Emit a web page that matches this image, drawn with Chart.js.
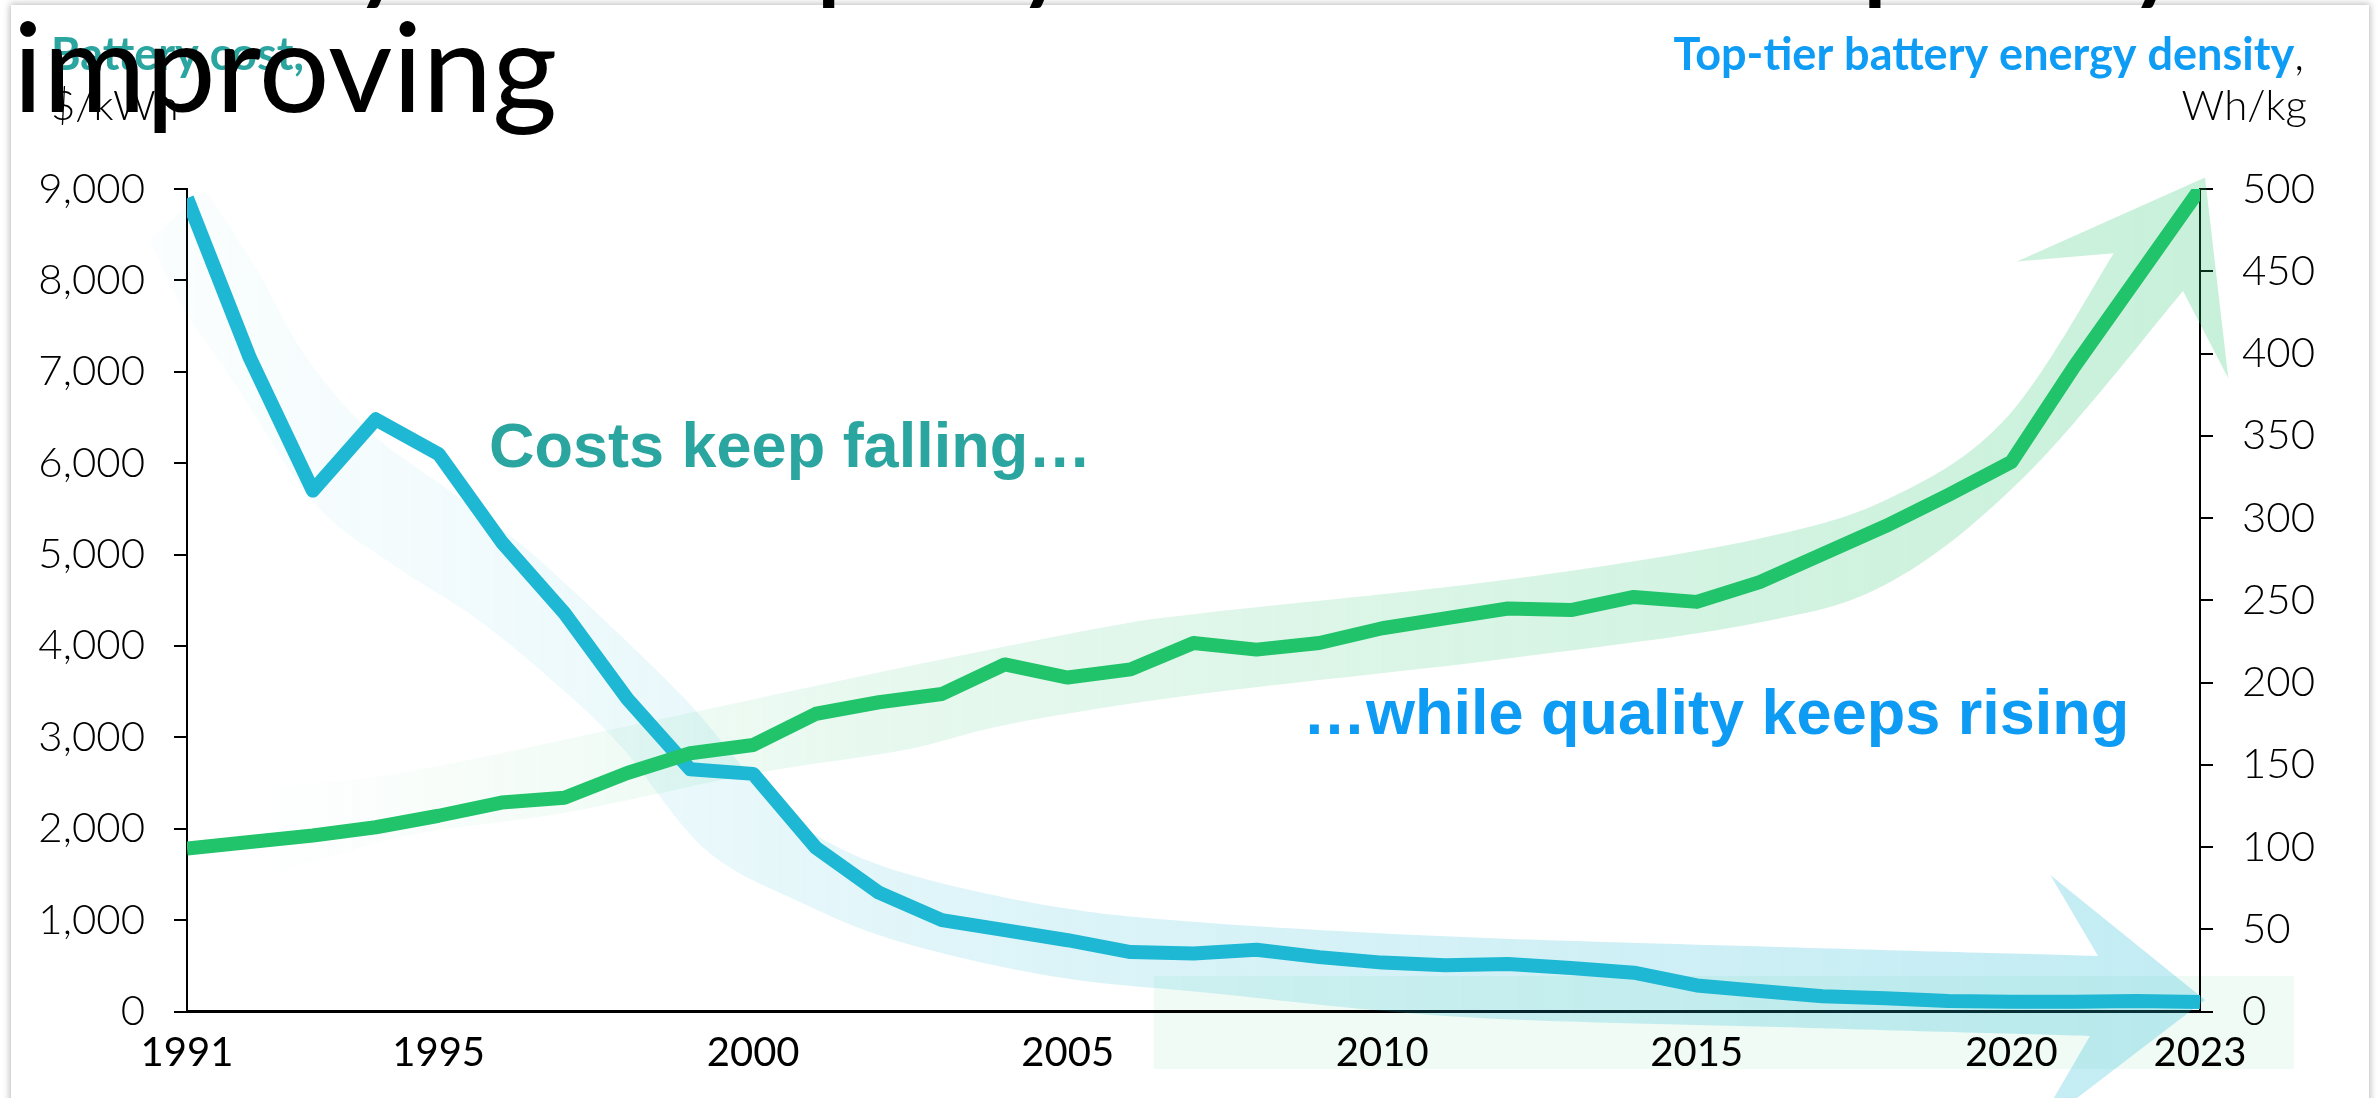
<!DOCTYPE html>
<html>
<head>
<meta charset="utf-8">
<script src="https://cdn.jsdelivr.net/npm/chart.js@4.4.0/dist/chart.umd.min.js"></script>
<style>
  html, body { margin: 0; padding: 0; background: #fff; overflow: hidden; }
  #slide { position: absolute; left: 11px; top: 5px; width: 2358px; height: 1200px; background: #fff;
           box-shadow: 0 0 7px 1px rgba(0,0,0,0.28); }
  #wrap { position: absolute; left: 0; top: 0; width: 2379px; height: 1098px; }
</style>
</head>
<body>
<div id="slide"></div>
<div id="wrap"><canvas id="c" width="2379" height="1098"></canvas></div>
<script>
// Years on the horizontal axis
const years = [1991, 1992, 1993, 1994, 1995, 1996, 1997, 1998, 1999, 2000,
               2001, 2002, 2003, 2004, 2005, 2006, 2007, 2008, 2009, 2010,
               2011, 2012, 2013, 2014, 2015, 2016, 2017, 2018, 2019, 2020,
               2021, 2022, 2023];

// Battery cost, $/kWh (left axis)
const batteryCost = [8900, 7150, 5700, 6480, 6100, 5140, 4360, 3420, 2650, 2600,
                     1790, 1300, 1000, 890, 780, 650, 635, 675, 595, 535,
                     505, 520, 476, 425, 285, 225, 166, 144, 115, 107,
                     107, 115, 104];

// Top-tier battery energy density, Wh/kg (right axis)
const energyDensity = [99, 103, 107, 112, 119, 127, 130, 145, 157, 162,
                       181, 188, 193, 211, 203, 208, 224, 220, 224, 233,
                       239, 245, 244, 252, 249, 261, 278, 295, 314, 334,
                       392, 446, 500];

const yearTicks = [1991, 1995, 2000, 2005, 2010, 2015, 2020, 2023];
const costTicksMax = 9000;
const densityTicksMax = 500;

// Trend arrow outlines: [year, value] in the units of each axis
const costBandUpper = [[1991.29, 8990], [1992.11, 8117], [1992.89, 7164], [1993.93, 6332], [1995.15, 5708],
                       [1996.36, 5084], [1997.58, 4318], [1998.93, 3410], [2000.06, 2501], [2000.94, 1954],
                       [2002.40, 1516], [2004.83, 1144], [2007.26, 969], [2011.28, 815], [2016.28, 706],
                       [2021.38, 608]];
const costBandHead = [[2020.62, 1494], [2023.08, 126], [2020.38, -1297]];
const costBandLower = [[1990.41, 8445], [1990.89, 7755], [1991.79, 6836], [1993.02, 5566], [1994.23, 4909],
                       [1995.63, 4285], [1996.98, 3519], [1997.95, 2862], [1999.25, 1768], [2000.78, 1188],
                       [2002.40, 750], [2004.83, 378], [2007.26, 203], [2011.28, -60], [2016.28, -170],
                       [2021.25, -268]];

const densityBandUpper = [[1991.92, 135], [1994.39, 145], [1998.44, 177], [2002.49, 210], [2005.64, 234],
                          [2007.10, 242], [2011.87, 262], [2015.93, 287], [2018.12, 313], [2019.95, 362],
                          [2021.63, 461]];
const densityBandHead = [[2020.09, 456], [2023.08, 507], [2023.45, 385]];
const densityBandLower = [[1991.92, 78], [1994.39, 106], [1997.02, 121], [2000.06, 145], [2002.40, 159],
                          [2004.11, 175], [2007.10, 193], [2011.87, 214], [2015.93, 236], [2018.12, 262],
                          [2020.31, 329], [2022.73, 438]];

// Pale panel behind the later years
const panelYears = [2006.37, 2024.49];
const panelCost = [389, -629];

// Smooth curve through a list of pixel points (Catmull-Rom)
function smoothPath(ctx, pts, start) {
  if (start) ctx.moveTo(pts[0][0], pts[0][1]); else ctx.lineTo(pts[0][0], pts[0][1]);
  for (let i = 0; i < pts.length - 1; i++) {
    const p0 = pts[i - 1] || pts[i], p1 = pts[i], p2 = pts[i + 1], p3 = pts[i + 2] || p2;
    ctx.bezierCurveTo(p1[0] + (p2[0] - p0[0]) / 6, p1[1] + (p2[1] - p0[1]) / 6,
                      p2[0] - (p3[0] - p1[0]) / 6, p2[1] - (p3[1] - p1[1]) / 6,
                      p2[0], p2[1]);
  }
}

function drawArrowBand(chart, axisId, upper, head, lower, rgb, stops) {
  const xs = chart.scales.x, ys = chart.scales[axisId];
  const px = p => [xs.getPixelForValue(p[0]), ys.getPixelForValue(p[1])];
  const U = upper.map(px), H = head.map(px), L = lower.map(px).reverse();
  const all = U.concat(H, L);
  const x0 = Math.min(...all.map(p => p[0])), x1 = Math.max(...all.map(p => p[0]));
  const ctx = chart.ctx;
  ctx.save();
  const g = ctx.createLinearGradient(x0, 0, x1, 0);
  stops.forEach(([s, a]) => g.addColorStop(s, `rgba(${rgb},${a})`));
  ctx.beginPath();
  smoothPath(ctx, U, true);
  H.forEach(p => ctx.lineTo(p[0], p[1]));
  smoothPath(ctx, L, false);
  ctx.closePath();
  ctx.fillStyle = g;
  ctx.fill();
  ctx.restore();
}

const decorations = {
  id: 'decorations',
  beforeDraw(chart) {
    const ctx = chart.ctx, xs = chart.scales.x, ys = chart.scales.y;
    const xa = xs.getPixelForValue(panelYears[0]), xb = xs.getPixelForValue(panelYears[1]);
    const ya = ys.getPixelForValue(panelCost[0]), yb = ys.getPixelForValue(panelCost[1]);
    ctx.save();
    ctx.fillStyle = 'rgba(200,240,218,0.28)';
    ctx.fillRect(xa, ya, xb - xa, yb - ya);
    ctx.restore();
  },
  beforeDatasetsDraw(chart) {
    drawArrowBand(chart, 'y', costBandUpper, costBandHead, costBandLower, '31,184,212',
                  [[0, 0.02], [0.15, 0.06], [0.45, 0.16], [1, 0.27]]);
    drawArrowBand(chart, 'y2', densityBandUpper, densityBandHead, densityBandLower, '34,196,107',
                  [[0, 0.0], [0.12, 0.04], [0.3, 0.1], [0.6, 0.17], [1, 0.25]]);
  },
  afterDraw(chart) {
    const ctx = chart.ctx;
    ctx.save();
    ctx.textBaseline = 'alphabetic';
    // Axis titles
    ctx.textAlign = 'left';
    ctx.font = 'bold 45px Lato, sans-serif';
    ctx.fillStyle = '#2ba59f';
    ctx.fillText('Battery cost,', 51, 70);
    ctx.font = '300 42px Lato, sans-serif';
    ctx.fillStyle = '#000';
    ctx.fillText('$/kWh', 51, 120);

    ctx.textAlign = 'right';
    ctx.font = '300 45px Lato, sans-serif';
    const cw = ctx.measureText(',').width;
    ctx.fillText(',', 2304, 70);
    ctx.font = 'bold 45px Lato, sans-serif';
    ctx.fillStyle = '#0e9cf5';
    ctx.fillText('Top-tier battery energy density', 2304 - cw, 70);
    ctx.font = '300 42px Lato, sans-serif';
    ctx.fillStyle = '#000';
    ctx.fillText('Wh/kg', 2307, 120);

    // Call-outs
    ctx.textAlign = 'left';
    ctx.font = 'bold 63px "Liberation Sans", Arial, sans-serif';
    ctx.fillStyle = '#2ba59f';
    ctx.fillText('Costs keep falling\u2026', 489, 467);
    ctx.fillStyle = '#0e9bf4';
    ctx.fillText('\u2026while quality keeps rising', 1303, 734);

    // Headline
    ctx.font = '400 125px Lato, sans-serif';
    ctx.fillStyle = '#000';
    ctx.fillText('Battery cost rapidly reduced and quality', 13, -13);
    ctx.fillText('improving', 13, 112);
    ctx.restore();
  }
};

const tickFont = { family: 'Lato, sans-serif', size: 42, weight: '300' };

new Chart(document.getElementById('c'), {
  type: 'line',
  data: {
    datasets: [
      {
        label: 'Top-tier battery energy density',
        data: years.map((y, i) => ({ x: y, y: energyDensity[i] })),
        yAxisID: 'y2',
        borderColor: '#22c46b',
        borderWidth: 14,
        borderJoinStyle: 'round',
        pointRadius: 0,
        tension: 0,
        order: 0
      },
      {
        label: 'Battery cost',
        data: years.map((y, i) => ({ x: y, y: batteryCost[i] })),
        yAxisID: 'y',
        borderColor: '#1fb8d4',
        borderWidth: 14,
        borderJoinStyle: 'round',
        pointRadius: 0,
        tension: 0,
        order: 1
      }
    ]
  },
  options: {
    responsive: false,
    animation: false,
    devicePixelRatio: 1,
    layout: { padding: { top: 189, left: 0, right: 0, bottom: 0 } },
    plugins: { legend: { display: false }, tooltip: { enabled: false } },
    scales: {
      x: {
        type: 'linear', min: years[0], max: years[years.length - 1],
        afterBuildTicks: s => { s.ticks = yearTicks.map(v => ({ value: v })); },
        afterFit: s => { s.height = 86.5; },
        ticks: { callback: v => String(v), color: '#000', font: { family: 'Lato, sans-serif', size: 40 },
                 padding: 18, maxRotation: 0, autoSkip: false },
        grid: { display: false, drawTicks: false },
        border: { display: true, color: '#000', width: 3 }
      },
      y: {
        position: 'left', min: 0, max: costTicksMax,
        afterFit: s => { s.width = 187; },
        ticks: { stepSize: 1000, callback: v => v.toLocaleString('en-US'), color: '#000', font: tickFont, padding: 29 },
        grid: { drawOnChartArea: false, drawTicks: true, tickLength: 13, color: '#000', lineWidth: 2 },
        border: { display: true, color: '#000', width: 2 }
      },
      y2: {
        position: 'right', min: 0, max: densityTicksMax,
        afterFit: s => { s.width = 179; },
        ticks: { stepSize: 50, callback: v => String(v), color: '#000', font: tickFont, padding: 29 },
        grid: { drawOnChartArea: false, drawTicks: true, tickLength: 13, color: '#000', lineWidth: 2 },
        border: { display: true, color: '#000', width: 2 }
      }
    }
  },
  plugins: [decorations]
});
</script>
</body>
</html>
